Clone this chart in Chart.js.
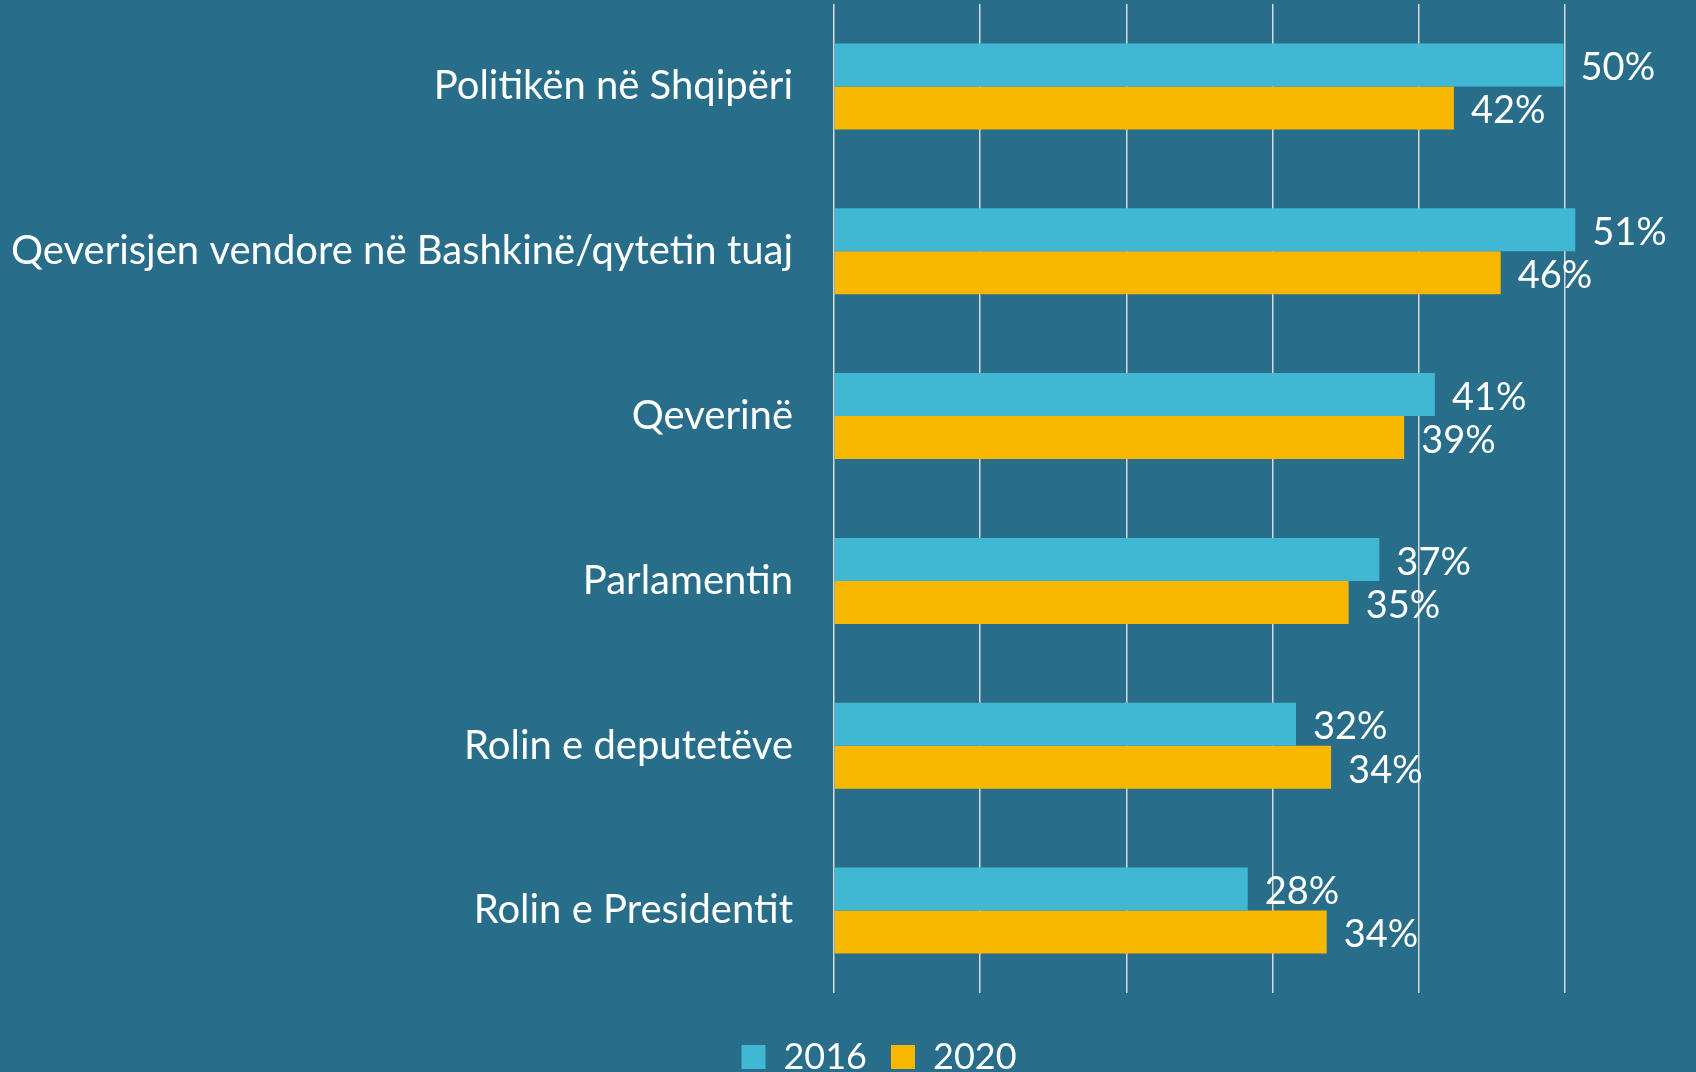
<!DOCTYPE html>
<html>
<head>
<meta charset="utf-8">
<script src="https://cdn.jsdelivr.net/npm/chart.js@4.4.1/dist/chart.umd.min.js"></script>
<style>
  html, body { margin: 0; padding: 0; background: #286E8A; overflow: hidden; }
  #wrap { width: 1758px; height: 1085px; }
</style>
</head>
<body>
<div id="wrap"><canvas id="chart" width="1758" height="1085"></canvas></div>
<script>
// Categories (top to bottom) and survey shares, in percent
const CATEGORIES = [
  "Politikën në Shqipëri",
  "Qeverisjen vendore në Bashkinë/qytetin tuaj",
  "Qeverinë",
  "Parlamentin",
  "Rolin e deputetëve",
  "Rolin e Presidentit",
];
const SERIES_NAMES = ["2016", "2020"];
const VALUES_2016 = [49.9, 50.7, 41.1, 37.3, 31.6, 28.3];
const VALUES_2020 = [42.4, 45.6, 39.0, 35.2, 34.0, 33.7];

const COLOR_2016 = "#41B8D3";
const COLOR_2020 = "#F9B800";
const FONT = "Lato";

// Value labels just right of each bar end
const valueLabels = {
  id: "valueLabels",
  afterDatasetsDraw(chart) {
    const ctx = chart.ctx;
    ctx.save();
    ctx.fillStyle = "#FFFFFF";
    ctx.font = `38px ${FONT}`;
    ctx.textAlign = "left";
    ctx.textBaseline = "middle";
    chart.data.datasets.forEach((ds, di) => {
      const meta = chart.getDatasetMeta(di);
      meta.data.forEach((bar, i) => {
        ctx.fillText(Math.round(ds.data[i]) + "%", bar.x + 17, bar.y + 3);
      });
    });
    ctx.restore();
  },
};

function draw() {
  new Chart(document.getElementById("chart"), {
    type: "bar",
    data: {
      labels: CATEGORIES,
      datasets: [
        { label: SERIES_NAMES[0], data: VALUES_2016, backgroundColor: COLOR_2016 },
        { label: SERIES_NAMES[1], data: VALUES_2020, backgroundColor: COLOR_2020 },
      ],
    },
    options: {
      indexAxis: "y",
      responsive: false,
      animation: false,
      devicePixelRatio: 1,
      layout: { padding: { top: 4, left: 0, right: 0, bottom: 0 } },
      datasets: {
        bar: { barPercentage: 1, categoryPercentage: 0.522, borderWidth: 0 },
      },
      scales: {
        x: {
          min: 0,
          max: 63.2, // plot runs past the visible right edge (cropped like the original)
          grid: { color: "#D9D9D9", lineWidth: 1.5, drawTicks: false },
          border: { display: false },
          ticks: { display: false, stepSize: 10, includeBounds: false },
          afterFit: (scale) => { scale.height = 22; },
        },
        y: {
          grid: { display: false, drawTicks: false },
          border: { display: false },
          ticks: { color: "#FFFFFF", font: { family: FONT, size: 40 }, padding: 41 },
          afterFit: (scale) => {
            scale.width = 834;
            // labels sit inside their bands, no extra edge padding needed
            scale.paddingTop = 0;
            scale.paddingBottom = 0;
          },
        },
      },
      plugins: {
        legend: {
          position: "bottom",
          labels: {
            color: "#FFFFFF",
            font: { family: FONT, size: 36 },
            boxWidth: 24,
            boxHeight: 24,
            padding: 24,
          },
        },
        tooltip: { enabled: false },
      },
    },
    plugins: [valueLabels],
  });
}

document.fonts.load(`36px ${FONT}`).then(draw, draw);
</script>
</body>
</html>
